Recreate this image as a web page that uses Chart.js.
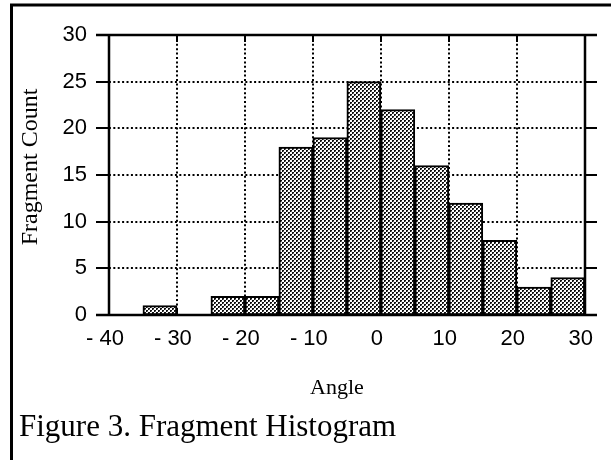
<!DOCTYPE html>
<html>
<head>
<meta charset="utf-8">
<script src="https://cdn.jsdelivr.net/npm/chart.js@4.4.1/dist/chart.umd.min.js"></script>
<style>
  html, body { margin: 0; padding: 0; background: #fff; }
  canvas { display: block; }
</style>
</head>
<body>
<canvas id="c" width="611" height="460"></canvas>
<script>
// ---- data ----
const binCenters = [-37.5, -32.5, -27.5, -22.5, -17.5, -12.5, -7.5, -2.5, 2.5, 7.5, 12.5, 17.5, 22.5, 27.5];
const fragmentCounts = [0, 1, 0, 2, 2, 18, 19, 25, 22, 16, 12, 8, 3, 4];
const xTickValues = [-40, -30, -20, -10, 0, 10, 20, 30];
const yTickValues = [0, 5, 10, 15, 20, 25, 30];
const xAxisTitle = 'Angle';
const yAxisTitle = 'Fragment Count';
const captionText = 'Figure 3. Fragment Histogram';

// dither pattern for the bars
function makePattern() {
  const p = document.createElement('canvas');
  p.width = 4; p.height = 4;
  const g = p.getContext('2d');
  g.fillStyle = '#ffffff'; g.fillRect(0, 0, 4, 4);
  g.fillStyle = '#111111';
  g.fillRect(0, 0, 2, 1); g.fillRect(0, 1, 1, 1);
  g.fillRect(2, 2, 2, 1); g.fillRect(2, 3, 1, 1);
  g.fillStyle = '#777777';
  g.fillRect(1, 1, 1, 1); g.fillRect(3, 3, 1, 1);
  return document.getElementById('c').getContext('2d').createPattern(p, 'repeat');
}
const barFill = makePattern();

const points = binCenters.map((x, i) => ({ x: x, y: fragmentCounts[i] }));

const xMin = xTickValues[0], xMax = xTickValues[xTickValues.length - 1];
const yMin = yTickValues[0], yMax = yTickValues[yTickValues.length - 1];

const framePlugin = {
  id: 'framePlugin',
  beforeDatasetsDraw(chart) {
    const ctx = chart.ctx, xs = chart.scales.x, ys = chart.scales.y, ca = chart.chartArea;
    const L = ca.left, R = ca.right;
    const T = ys.getPixelForValue(yMax), B = ys.getPixelForValue(yMin);
    const x0 = xs.getPixelForValue(xMin), x1 = xs.getPixelForValue(xMax);
    ctx.save();
    ctx.strokeStyle = '#000';
    ctx.lineWidth = 2;
    // horizontal grid lines
    yTickValues.forEach(v => {
      if (v === yMin || v === yMax) return;
      const y = Math.round(ys.getPixelForValue(v));
      ctx.setLineDash([2, 2.4]);
      ctx.beginPath(); ctx.moveTo(x0, y); ctx.lineTo(x1, y); ctx.stroke();
      ctx.setLineDash([]);
      ctx.beginPath(); ctx.moveTo(L, y); ctx.lineTo(x0, y); ctx.moveTo(x1, y); ctx.lineTo(R, y); ctx.stroke();
    });
    // vertical grid lines
    xTickValues.forEach(v => {
      if (v === xMin || v === xMax) return;
      const x = Math.round(xs.getPixelForValue(v));
      ctx.setLineDash([2, 2.4]);
      ctx.beginPath(); ctx.moveTo(x, T); ctx.lineTo(x, B); ctx.stroke();
      ctx.setLineDash([]);
      ctx.beginPath(); ctx.moveTo(x, T); ctx.lineTo(x, T + 7); ctx.moveTo(x, B); ctx.lineTo(x, B - 7); ctx.stroke();
    });
    ctx.restore();
  },
  afterDatasetsDraw(chart) {
    const ctx = chart.ctx, xs = chart.scales.x, ys = chart.scales.y, ca = chart.chartArea;
    const L = ca.left, R = ca.right;
    const T = Math.round(ys.getPixelForValue(yMax)), B = Math.round(ys.getPixelForValue(yMin));
    const x0 = Math.round(xs.getPixelForValue(xMin)), x1 = Math.round(xs.getPixelForValue(xMax));
    ctx.save();
    ctx.strokeStyle = '#000';
    ctx.lineWidth = 2.5;
    ctx.beginPath();
    ctx.moveTo(L, T); ctx.lineTo(R, T);
    ctx.moveTo(L, B); ctx.lineTo(R, B);
    ctx.moveTo(x0, T); ctx.lineTo(x0, B);
    ctx.moveTo(x1, T); ctx.lineTo(x1, B);
    ctx.stroke();
    // outer figure frame (top and left)
    ctx.lineWidth = 3;
    ctx.beginPath();
    ctx.moveTo(10, 5); ctx.lineTo(611, 5);
    ctx.moveTo(11.5, 4); ctx.lineTo(11.5, 460);
    ctx.stroke();
    // titles and caption
    ctx.fillStyle = '#000';
    ctx.font = '24px "Liberation Serif", "Times New Roman", serif';
    ctx.textAlign = 'center';
    ctx.textBaseline = 'alphabetic';
    ctx.save();
    ctx.translate(37, 167);
    ctx.rotate(-Math.PI / 2);
    ctx.fillText(yAxisTitle, 0, 0);
    ctx.restore();
    ctx.font = '22px "Liberation Serif", "Times New Roman", serif';
    ctx.fillText(xAxisTitle, 337, 394);
    ctx.textAlign = 'left';
    ctx.font = '31px "Liberation Serif", "Times New Roman", serif';
    ctx.fillText(captionText, 19, 436);
    ctx.restore();
  }
};

new Chart(document.getElementById('c'), {
  type: 'bar',
  data: {
    datasets: [{
      label: yAxisTitle,
      data: points,
      backgroundColor: barFill,
      borderColor: '#000',
      borderWidth: 2,
      borderSkipped: false,
      barPercentage: 1.0,
      categoryPercentage: 1.0
    }]
  },
  options: {
    responsive: false,
    animation: false,
    events: [],
    layout: { padding: { left: 0, top: 35, right: 14, bottom: 0 } },
    plugins: { legend: { display: false }, tooltip: { enabled: false }, title: { display: false } },
    scales: {
      x: {
        type: 'linear',
        offset: false,
        min: -41.9,
        max: 31.8,
        afterBuildTicks(scale) { scale.ticks = xTickValues.map(v => ({ value: v })); },
        afterFit(scale) { scale.height = 145; },
        grid: { display: false, offset: false, drawTicks: false },
        border: { display: false },
        ticks: {
          color: '#000',
          padding: 11,
          labelOffset: -4,
          maxRotation: 0,
          autoSkip: false,
          font: { family: '"Liberation Sans", Arial, sans-serif', size: 22 },
          callback: v => (v < 0 ? '- ' + Math.abs(v) : String(v))
        }
      },
      y: {
        min: yMin,
        max: yMax,
        afterBuildTicks(scale) { scale.ticks = yTickValues.map(v => ({ value: v })); },
        afterFit(scale) { scale.width = 96; },
        grid: { display: false, drawTicks: false },
        border: { display: false },
        ticks: {
          color: '#000',
          padding: 9,
          font: { family: '"Liberation Sans", Arial, sans-serif', size: 22 }
        }
      }
    }
  },
  plugins: [framePlugin]
});
</script>
</body>
</html>
